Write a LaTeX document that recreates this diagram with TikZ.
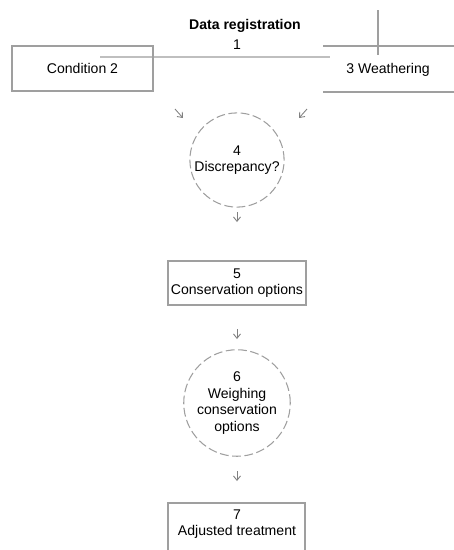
\documentclass[tikz,border=0pt]{standalone}
\usepackage{fontspec}
\setmainfont{Liberation Sans}
\usetikzlibrary{arrows.meta}

\begin{document}
\begin{tikzpicture}[x=0.2mm,y=-0.2mm,
    line/.style={draw=gray!75,line width=0.6pt},
    lbl/.style={font=\footnotesize,align=center,inner sep=1pt},
    box/.style={line,minimum width=27.6mm,minimum height=8.8mm,lbl},
    disc/.style={line,dash pattern=on 5pt off 2pt,circle,lbl},
    tip/.style={gray,line width=0.5pt,-{Straight Barb[length=2.5pt,width=4pt]}}]
  \useasboundingbox (0,0) rectangle (454,550);
  % header
  \node[lbl,font=\footnotesize\bfseries] (reg) at (245,26) {Data registration};
  \node[lbl] (one) at (237,45) {1};
  \coordinate (h1) at (100,57);
  \coordinate (h2) at (330,57);
  \draw[line,draw=gray!50] (h1) -- (h2);
  % left and right boxes
  \node[line,minimum width=28.2mm,minimum height=9mm,lbl] (cond) at (82.5,68.5) {Condition 2};
  \node[lbl] (weath) at (388,70) {3 Weathering};
  \draw[line] (323,46) -- (454,46);
  \draw[line] (323,92) -- (454,92);
  \draw[line] (378,10) -- (378,55);
  % small arrows
  \coordinate (a1) at (175,109);
  \coordinate (b1) at (183,118);
  \coordinate (a2) at (307,109);
  \coordinate (b2) at (299,118);
  \draw[tip] (a1) -- (b1);
  \draw[tip] (a2) -- (b2);
  % steps
  \node[disc,minimum size=17.4mm] (disc4) at (237,160) {4\\Discrepancy?};
  \node[box] (cons5) at (237,283) {5\\Conservation options};
  \node[disc,minimum size=18mm] (weigh6) at (237,403) {6\\Weighing\\conservation\\options};
  \node[lbl] (adj7) at (237,524) {7\\Adjusted treatment};
  \draw[line] (168,550) -- (168,503) -- (305,503) -- (305,550);
  \foreach \y/\n in {212/p, 329/q, 471/r} {
    \coordinate (\n a) at (237,\y);
    \coordinate (\n b) at (237,\y+10);
    \draw[tip] (\n a) -- (\n b);
  }
\end{tikzpicture}
\end{document}
